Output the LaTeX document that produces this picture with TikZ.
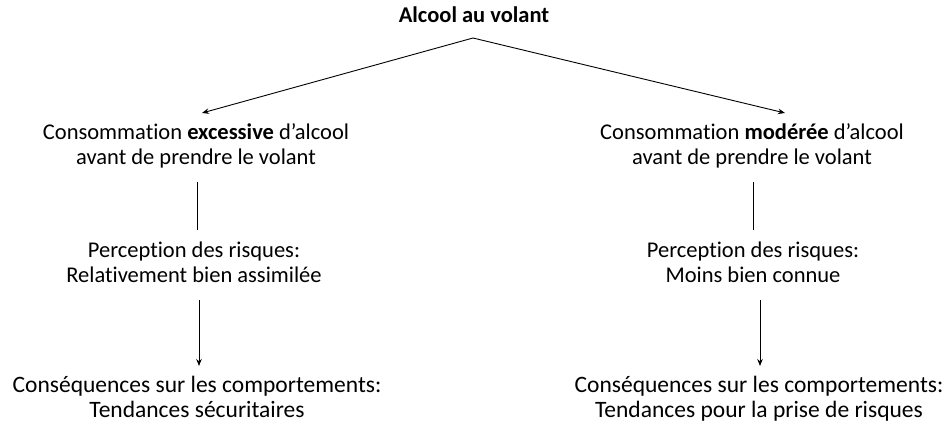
\documentclass[tikz,border=0pt]{standalone}
\usepackage{fontspec}
\setmainfont[Ligatures=NoCommon]{Carlito}
\usetikzlibrary{arrows.meta}
\begin{document}
\begin{tikzpicture}[x=1pt,y=-1pt,
  lbl/.style={align=center,inner sep=0pt,anchor=base,font=\fontsize{22.5}{25.5}\selectfont},
  big/.style={lbl,font=\fontsize{23.5}{25.5}\selectfont},
  conn/.style={line width=0.9pt,black},
  arr/.style={conn,-{Stealth[length=7pt,width=5.5pt]}}]
\useasboundingbox (0,0) rectangle (946,427);
\node[lbl,font=\fontsize{22.5}{25.5}\selectfont\bfseries] (title) at (474,22.5) {Alcool au volant};
\node[lbl] (cl) at (196,165) {Consommation \textbf{excessive} d’alcool\\avant de prendre le volant};
\node[lbl] (cr) at (752,165) {Consommation \textbf{modérée} d’alcool\\avant de prendre le volant};
\node[lbl] (pl) at (194,283) {Perception des risques:\\Relativement bien assimilée};
\node[lbl] (pr) at (753,283) {Perception des risques:\\Moins bien connue};
\node[big] (ql) at (197,418) {Conséquences sur les comportements:\\Tendances sécuritaires};
\node[big] (qr) at (759,418) {Conséquences sur les comportements:\\Tendances pour la prise de risques};
\coordinate (t0) at (473,38);
\coordinate (clin) at (202,113);
\coordinate (crin) at (785,113);
\coordinate (clout) at (197,182);
\coordinate (plin) at (197,230);
\coordinate (crout) at (753,182);
\coordinate (prin) at (753,230);
\coordinate (plout) at (199,300);
\coordinate (qlin) at (199,366);
\coordinate (prout) at (760,300);
\coordinate (qrin) at (760,366);
\draw[arr] (t0) -- (clin);
\draw[arr] (t0) -- (crin);
\draw[conn] (clout) -- (plin);
\draw[conn] (crout) -- (prin);
\draw[arr] (plout) -- (qlin);
\draw[arr] (prout) -- (qrin);
\end{tikzpicture}
\end{document}
